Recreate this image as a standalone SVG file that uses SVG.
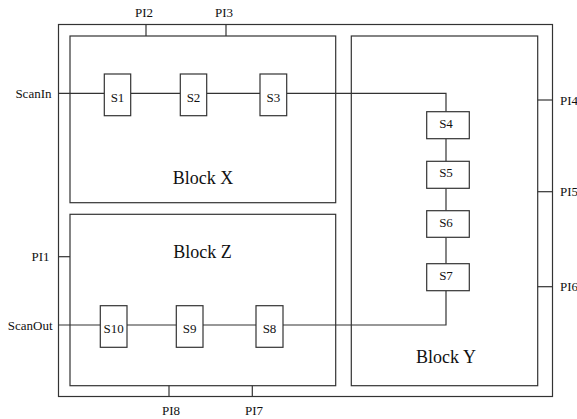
<svg xmlns="http://www.w3.org/2000/svg" width="577" height="419" viewBox="0 0 577 419">
<style>
rect{fill:#fff;stroke:#333;stroke-width:1.2}
line,polyline{fill:none;stroke:#333;stroke-width:1.2}
text{font-family:"Liberation Serif","Times New Roman",serif;font-size:13px;fill:#111}
.big{font-size:18px}
.m{text-anchor:middle}
.e{text-anchor:end}
</style>
<g id="outer"><rect x="58.5" y="24.5" width="494" height="372"/></g>
<g id="blockX"><rect x="70" y="36" width="265.7" height="166.7"/><text class="big m" x="203" y="183.5">Block X</text></g>
<g id="blockZ"><rect x="70" y="214.3" width="265.7" height="171.4"/><text class="big m" x="202.5" y="257.5">Block Z</text></g>
<g id="blockY"><rect x="351.3" y="36" width="186.4" height="349.7"/><text class="big m" x="446" y="363">Block Y</text></g>
<g id="connectors">
<line x1="58.5" y1="93.3" x2="104.3" y2="93.3"/>
<line x1="130.7" y1="93.3" x2="180.3" y2="93.3"/>
<line x1="206.7" y1="93.3" x2="260" y2="93.3"/>
<polyline points="286.7,93.3 446,93.3 446,111.7"/>
<line x1="446" y1="138.7" x2="446" y2="161.3"/>
<line x1="446" y1="188.3" x2="446" y2="210.7"/>
<line x1="446" y1="237.3" x2="446" y2="263.7"/>
<polyline points="446,290.7 446,325 283,325"/>
<line x1="256" y1="325" x2="203" y2="325"/>
<line x1="176.3" y1="325" x2="127" y2="325"/>
<line x1="100.3" y1="325" x2="58.5" y2="325"/>
<line x1="146" y1="24.5" x2="146" y2="36"/>
<line x1="226" y1="24.5" x2="226" y2="36"/>
<line x1="58.5" y1="256.7" x2="70" y2="256.7"/>
<line x1="537.7" y1="100" x2="552.5" y2="100"/>
<line x1="537.7" y1="191.7" x2="552.5" y2="191.7"/>
<line x1="537.7" y1="286.7" x2="552.5" y2="286.7"/>
<line x1="169" y1="385.7" x2="169" y2="396.5"/>
<line x1="252.3" y1="385.7" x2="252.3" y2="396.5"/>
</g>
<g id="S1"><rect x="104.3" y="74" width="26.4" height="41.7"/><text class="m" x="117.5" y="101.5">S1</text></g>
<g id="S2"><rect x="180.3" y="74" width="26.4" height="41.7"/><text class="m" x="193.5" y="101.5">S2</text></g>
<g id="S3"><rect x="260" y="74" width="26.7" height="41.7"/><text class="m" x="273.3" y="101.5">S3</text></g>
<g id="S4"><rect x="426.7" y="111.7" width="42.6" height="27"/><text class="m" x="446" y="127.7">S4</text></g>
<g id="S5"><rect x="426.7" y="161.3" width="42.6" height="27"/><text class="m" x="446" y="177.3">S5</text></g>
<g id="S6"><rect x="426.7" y="210.7" width="42.6" height="26.6"/><text class="m" x="446" y="226.5">S6</text></g>
<g id="S7"><rect x="426.7" y="263.7" width="42.6" height="27"/><text class="m" x="446" y="279.7">S7</text></g>
<g id="S8"><rect x="256" y="305.7" width="27" height="41.6"/><text class="m" x="269.5" y="333">S8</text></g>
<g id="S9"><rect x="176.3" y="305.7" width="26.7" height="41.6"/><text class="m" x="189.7" y="333">S9</text></g>
<g id="S10"><rect x="100.3" y="305.7" width="26.7" height="41.6"/><text class="m" x="113.7" y="333">S10</text></g>
<g id="labels">
<text class="e" x="51.5" y="97.5">ScanIn</text>
<text class="e" x="52.5" y="329.5">ScanOut</text>
<text class="e" x="49.5" y="260.5">PI1</text>
<text class="m" x="144" y="17">PI2</text>
<text class="m" x="224" y="17">PI3</text>
<text x="560" y="104.5">PI4</text>
<text x="560" y="196">PI5</text>
<text x="560" y="291">PI6</text>
<text class="m" x="254" y="415">PI7</text>
<text class="m" x="171" y="415">PI8</text>
</g>
</svg>
